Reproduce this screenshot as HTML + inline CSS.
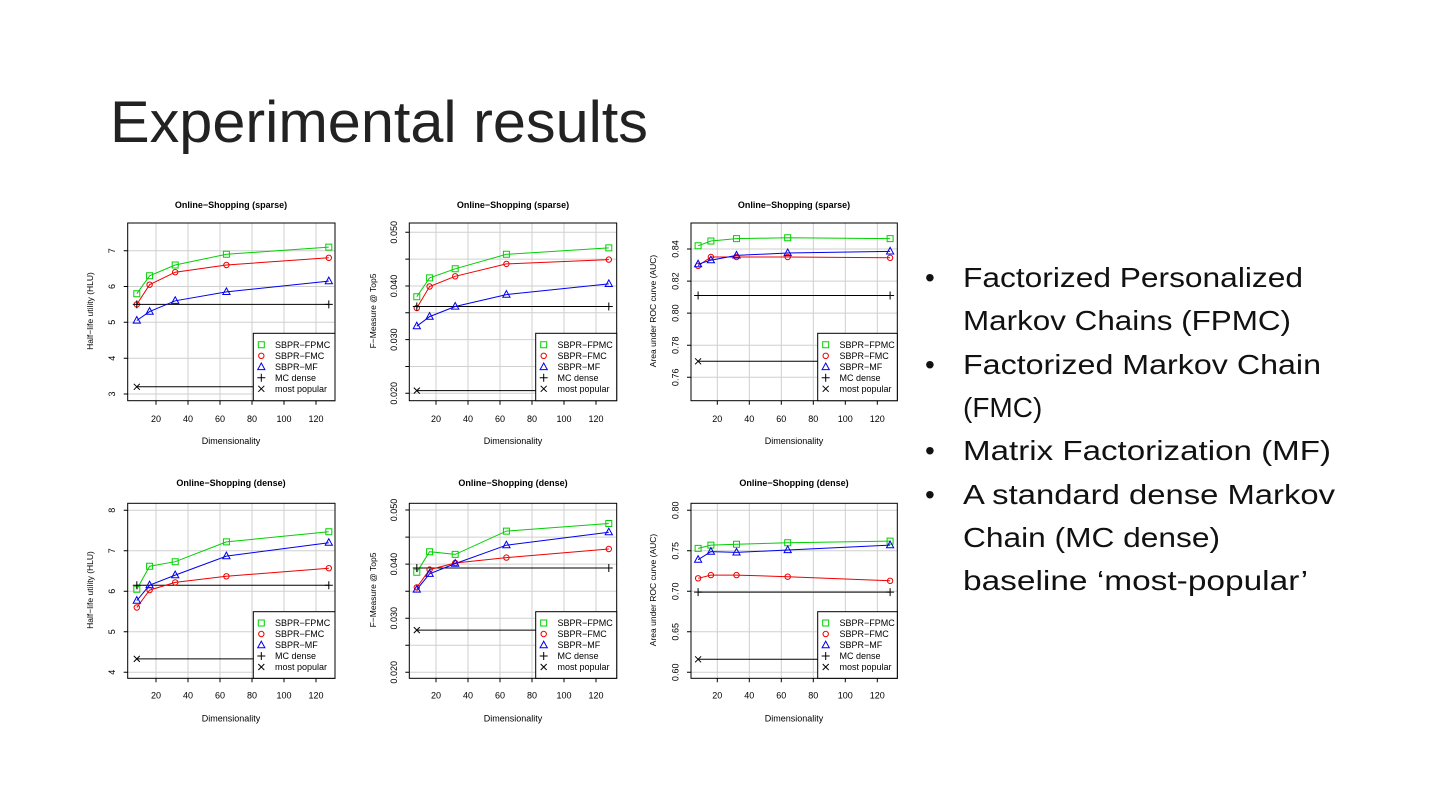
<!DOCTYPE html>
<html><head><meta charset="utf-8"><style>
html,body{margin:0;padding:0;background:#fff;}
svg{display:block;font-family:"Liberation Sans",sans-serif;}
</style></head><body>
<svg width="1440" height="810" viewBox="0 0 1440 810" xmlns="http://www.w3.org/2000/svg">
<defs>
<path id="sq" d="M-3,-3h6v6h-6z" fill="none" stroke="#00d000" stroke-width="1"/>
<circle id="ci" r="2.7" fill="none" stroke="#f00000" stroke-width="1"/>
<path id="tr" d="M0,-4L3.6,2.6L-3.6,2.6z" fill="none" stroke="#0000ee" stroke-width="1"/>
<path id="pl" d="M-4,0h8M0,-4v8" stroke="#000" stroke-width="1"/>
<path id="xx" d="M-3,-3L3,3M-3,3L3,-3" stroke="#000" stroke-width="1"/>
</defs>
<text x="110" y="142" font-size="58" fill="#222" font-family="Liberation Sans, sans-serif" textLength="538" lengthAdjust="spacingAndGlyphs">Experimental results</text>

<!-- right bullets -->
<g font-size="28" fill="#111">
<text x="925" y="287">•</text><text x="963" y="287" textLength="340" lengthAdjust="spacingAndGlyphs">Factorized Personalized</text>
<text x="963" y="330" textLength="328" lengthAdjust="spacingAndGlyphs">Markov Chains (FPMC)</text>
<text x="925" y="374">•</text><text x="963" y="374" textLength="358" lengthAdjust="spacingAndGlyphs">Factorized Markov Chain</text>
<text x="963" y="417">(FMC)</text>
<text x="925" y="460">•</text><text x="963" y="460" textLength="368" lengthAdjust="spacingAndGlyphs">Matrix Factorization (MF)</text>
<text x="925" y="504">•</text><text x="963" y="504" textLength="372" lengthAdjust="spacingAndGlyphs">A standard dense Markov</text>
<text x="963" y="547" textLength="257" lengthAdjust="spacingAndGlyphs">Chain (MC dense)</text>
<text x="963" y="590" textLength="345" lengthAdjust="spacingAndGlyphs">baseline ‘most-popular’</text>
</g>

<!-- common text styles -->
<g font-size="9" fill="#000">

<!-- ================= PLOT A ================= -->
<g stroke="#cfcfcf" stroke-width="1">
<path d="M156,223V400.7M188,223V400.7M220,223V400.7M252,223V400.7M284,223V400.7M316,223V400.7"/>
<path d="M127.7,394H335M127.7,358.2H335M127.7,322.3H335M127.7,286.5H335M127.7,250.7H335"/>
</g>
<polyline points="136.8,304.4 328.8,304.4" fill="none" stroke="#000"/>
<polyline points="136.8,386.8 253.3,386.8" fill="none" stroke="#000"/>
<polyline points="136.8,293.7 149.6,275.8 175.2,265 226.4,254.3 328.8,247.1" fill="none" stroke="#00d000"/>
<polyline points="136.8,304.4 149.6,284.7 175.2,272.2 226.4,265 328.8,257.8" fill="none" stroke="#f00000"/>
<polyline points="136.8,320.5 149.6,311.6 175.2,300.8 226.4,291.9 328.8,281.1" fill="none" stroke="#0000ee"/>
<use href="#sq" x="136.8" y="293.7"/><use href="#sq" x="149.6" y="275.8"/><use href="#sq" x="175.2" y="265"/><use href="#sq" x="226.4" y="254.3"/><use href="#sq" x="328.8" y="247.1"/>
<use href="#ci" x="136.8" y="304.4"/><use href="#ci" x="149.6" y="284.7"/><use href="#ci" x="175.2" y="272.2"/><use href="#ci" x="226.4" y="265"/><use href="#ci" x="328.8" y="257.8"/>
<use href="#tr" x="136.8" y="320.5"/><use href="#tr" x="149.6" y="311.6"/><use href="#tr" x="175.2" y="300.8"/><use href="#tr" x="226.4" y="291.9"/><use href="#tr" x="328.8" y="281.1"/>
<use href="#pl" x="136.8" y="304.4"/><use href="#pl" x="328.8" y="304.4"/><use href="#xx" x="136.8" y="386.8"/>
<rect x="127.7" y="223" width="207.3" height="177.7" fill="none" stroke="#000"/>
<path d="M156,400.7v4M188,400.7v4M220,400.7v4M252,400.7v4M284,400.7v4M316,400.7v4M127.7,394h-4M127.7,358.2h-4M127.7,322.3h-4M127.7,286.5h-4M127.7,250.7h-4" stroke="#000"/>
<g text-anchor="middle"><text x="156" y="422">20</text><text x="188" y="422">40</text><text x="220" y="422">60</text><text x="252" y="422">80</text><text x="284" y="422">100</text><text x="316" y="422">120</text>
<text x="231" y="208" font-weight="bold">Online−Shopping (sparse)</text>
<text x="231" y="444">Dimensionality</text>
<text transform="translate(115,394) rotate(-90)">3</text><text transform="translate(115,358.2) rotate(-90)">4</text><text transform="translate(115,322.3) rotate(-90)">5</text><text transform="translate(115,286.5) rotate(-90)">6</text><text transform="translate(115,250.7) rotate(-90)">7</text>
<text transform="translate(93,311) rotate(-90)" font-size="8.5">Half−life utility (HLU)</text></g>
<rect x="253.3" y="333.3" width="81.7" height="67.4" fill="#fff" stroke="#000"/>
<use href="#sq" x="261.3" y="344.8"/><use href="#ci" x="261.3" y="355.8"/><use href="#tr" x="261.3" y="367"/><use href="#pl" x="261.3" y="377.8"/><use href="#xx" x="261.3" y="388.8"/>
<text x="275" y="348">SBPR−FPMC</text><text x="275" y="359">SBPR−FMC</text><text x="275" y="370">SBPR−MF</text><text x="275" y="381">MC dense</text><text x="275" y="392">most popular</text>

<!-- ================= PLOT B ================= -->
<g stroke="#cfcfcf">
<path d="M436,223V400.7M468,223V400.7M500,223V400.7M532,223V400.7M564,223V400.7M596,223V400.7"/>
<path d="M409.3,393.3H616.7M409.3,366.5H616.7M409.3,339.6H616.7M409.3,312.8H616.7M409.3,286H616.7M409.3,259.1H616.7M409.3,232.3H616.7"/>
</g>
<polyline points="416.8,306.5 608.8,306.5" fill="none" stroke="#000"/>
<polyline points="416.8,390.6 535.7,390.6" fill="none" stroke="#000"/>
<polyline points="416.8,296.7 429.6,277.9 455.2,268.8 506.4,254.3 608.8,247.9" fill="none" stroke="#00d000"/>
<polyline points="416.8,308 429.6,286.5 455.2,276.3 506.4,263.9 608.8,259.6" fill="none" stroke="#f00000"/>
<polyline points="416.8,326.2 429.6,316.6 455.2,306.5 506.4,294.6 608.8,283.9" fill="none" stroke="#0000ee"/>
<use href="#sq" x="416.8" y="296.7"/><use href="#sq" x="429.6" y="277.9"/><use href="#sq" x="455.2" y="268.8"/><use href="#sq" x="506.4" y="254.3"/><use href="#sq" x="608.8" y="247.9"/>
<use href="#ci" x="416.8" y="308"/><use href="#ci" x="429.6" y="286.5"/><use href="#ci" x="455.2" y="276.3"/><use href="#ci" x="506.4" y="263.9"/><use href="#ci" x="608.8" y="259.6"/>
<use href="#tr" x="416.8" y="326.2"/><use href="#tr" x="429.6" y="316.6"/><use href="#tr" x="455.2" y="306.5"/><use href="#tr" x="506.4" y="294.6"/><use href="#tr" x="608.8" y="283.9"/>
<use href="#pl" x="416.8" y="306.5"/><use href="#pl" x="608.8" y="306.5"/><use href="#xx" x="416.8" y="390.6"/>
<rect x="409.3" y="223" width="207.4" height="177.7" fill="none" stroke="#000"/>
<path d="M436,400.7v4M468,400.7v4M500,400.7v4M532,400.7v4M564,400.7v4M596,400.7v4M409.3,393.3h-4M409.3,366.5h-4M409.3,339.6h-4M409.3,312.8h-4M409.3,286h-4M409.3,259.1h-4M409.3,232.3h-4" stroke="#000"/>
<g text-anchor="middle"><text x="436" y="422">20</text><text x="468" y="422">40</text><text x="500" y="422">60</text><text x="532" y="422">80</text><text x="564" y="422">100</text><text x="596" y="422">120</text>
<text x="513" y="208" font-weight="bold">Online−Shopping (sparse)</text>
<text x="513" y="444">Dimensionality</text>
<text transform="translate(397,393.3) rotate(-90)">0.020</text><text transform="translate(397,339.6) rotate(-90)">0.030</text><text transform="translate(397,286) rotate(-90)">0.040</text><text transform="translate(397,232.3) rotate(-90)">0.050</text>
<text transform="translate(376,311) rotate(-90)" font-size="8.5">F−Measure @ Top5</text></g>
<rect x="535.7" y="333.3" width="81" height="67.4" fill="#fff" stroke="#000"/>
<use href="#sq" x="543.7" y="344.8"/><use href="#ci" x="543.7" y="355.8"/><use href="#tr" x="543.7" y="367"/><use href="#pl" x="543.7" y="377.8"/><use href="#xx" x="543.7" y="388.8"/>
<text x="557.5" y="348">SBPR−FPMC</text><text x="557.5" y="359">SBPR−FMC</text><text x="557.5" y="370">SBPR−MF</text><text x="557.5" y="381">MC dense</text><text x="557.5" y="392">most popular</text>

<!-- ================= PLOT C ================= -->
<g stroke="#cfcfcf">
<path d="M717.3,223V400.7M749.3,223V400.7M781.3,223V400.7M813.3,223V400.7M845.3,223V400.7M877.3,223V400.7"/>
<path d="M691,377.3H897.3M691,345.2H897.3M691,313.1H897.3M691,281.1H897.3M691,249H897.3"/>
</g>
<polyline points="698.1,295.5 890.1,295.5" fill="none" stroke="#000"/>
<polyline points="698.1,361.3 817.7,361.3" fill="none" stroke="#000"/>
<polyline points="698.1,245.8 710.9,241 736.5,238.6 787.7,237.8 890.1,238.6" fill="none" stroke="#00d000"/>
<polyline points="698.1,265.8 710.9,257 736.5,257 787.7,257 890.1,257.8" fill="none" stroke="#f00000"/>
<polyline points="698.1,264.2 710.9,260.2 736.5,255.4 787.7,253 890.1,251.4" fill="none" stroke="#0000ee"/>
<use href="#sq" x="698.1" y="245.8"/><use href="#sq" x="710.9" y="241"/><use href="#sq" x="736.5" y="238.6"/><use href="#sq" x="787.7" y="237.8"/><use href="#sq" x="890.1" y="238.6"/>
<use href="#ci" x="698.1" y="265.8"/><use href="#ci" x="710.9" y="257"/><use href="#ci" x="736.5" y="257"/><use href="#ci" x="787.7" y="257"/><use href="#ci" x="890.1" y="257.8"/>
<use href="#tr" x="698.1" y="264.2"/><use href="#tr" x="710.9" y="260.2"/><use href="#tr" x="736.5" y="255.4"/><use href="#tr" x="787.7" y="253"/><use href="#tr" x="890.1" y="251.4"/>
<use href="#pl" x="698.1" y="295.5"/><use href="#pl" x="890.1" y="295.5"/><use href="#xx" x="698.1" y="361.3"/>
<rect x="691" y="223" width="206.3" height="177.7" fill="none" stroke="#000"/>
<path d="M717.3,400.7v4M749.3,400.7v4M781.3,400.7v4M813.3,400.7v4M845.3,400.7v4M877.3,400.7v4M691,377.3h-4M691,345.2h-4M691,313.1h-4M691,281.1h-4M691,249h-4" stroke="#000"/>
<g text-anchor="middle"><text x="717.3" y="422">20</text><text x="749.3" y="422">40</text><text x="781.3" y="422">60</text><text x="813.3" y="422">80</text><text x="845.3" y="422">100</text><text x="877.3" y="422">120</text>
<text x="794" y="208" font-weight="bold">Online−Shopping (sparse)</text>
<text x="794" y="444">Dimensionality</text>
<text transform="translate(678.5,377.3) rotate(-90)">0.76</text><text transform="translate(678.5,345.2) rotate(-90)">0.78</text><text transform="translate(678.5,313.1) rotate(-90)">0.80</text><text transform="translate(678.5,281.1) rotate(-90)">0.82</text><text transform="translate(678.5,249) rotate(-90)">0.84</text>
<text transform="translate(656,311) rotate(-90)" font-size="8.5">Area under ROC curve (AUC)</text></g>
<rect x="817.7" y="333.3" width="79.6" height="67.4" fill="#fff" stroke="#000"/>
<use href="#sq" x="825.7" y="344.8"/><use href="#ci" x="825.7" y="355.8"/><use href="#tr" x="825.7" y="367"/><use href="#pl" x="825.7" y="377.8"/><use href="#xx" x="825.7" y="388.8"/>
<text x="839.5" y="348">SBPR−FPMC</text><text x="839.5" y="359">SBPR−FMC</text><text x="839.5" y="370">SBPR−MF</text><text x="839.5" y="381">MC dense</text><text x="839.5" y="392">most popular</text>

<!-- ================= PLOT D ================= -->
<g stroke="#cfcfcf">
<path d="M156,503.3V678.3M188,503.3V678.3M220,503.3V678.3M252,503.3V678.3M284,503.3V678.3M316,503.3V678.3"/>
<path d="M127.7,672.3H335M127.7,631.8H335M127.7,591.3H335M127.7,550.8H335M127.7,510.3H335"/>
</g>
<polyline points="136.8,585.2 328.8,585.2" fill="none" stroke="#000"/>
<polyline points="136.8,658.9 253.3,658.9" fill="none" stroke="#000"/>
<polyline points="136.8,589.3 149.6,566.2 175.2,561.7 226.4,541.9 328.8,531.8" fill="none" stroke="#00d000"/>
<polyline points="136.8,607.5 149.6,590.1 175.2,582.4 226.4,576.3 328.8,568.2" fill="none" stroke="#f00000"/>
<polyline points="136.8,600.6 149.6,585.2 175.2,575.1 226.4,556.1 328.8,542.7" fill="none" stroke="#0000ee"/>
<use href="#sq" x="136.8" y="589.3"/><use href="#sq" x="149.6" y="566.2"/><use href="#sq" x="175.2" y="561.7"/><use href="#sq" x="226.4" y="541.9"/><use href="#sq" x="328.8" y="531.8"/>
<use href="#ci" x="136.8" y="607.5"/><use href="#ci" x="149.6" y="590.1"/><use href="#ci" x="175.2" y="582.4"/><use href="#ci" x="226.4" y="576.3"/><use href="#ci" x="328.8" y="568.2"/>
<use href="#tr" x="136.8" y="600.6"/><use href="#tr" x="149.6" y="585.2"/><use href="#tr" x="175.2" y="575.1"/><use href="#tr" x="226.4" y="556.1"/><use href="#tr" x="328.8" y="542.7"/>
<use href="#pl" x="136.8" y="585.2"/><use href="#pl" x="328.8" y="585.2"/><use href="#xx" x="136.8" y="658.9"/>
<rect x="127.7" y="503.3" width="207.3" height="175" fill="none" stroke="#000"/>
<path d="M156,678.3v4M188,678.3v4M220,678.3v4M252,678.3v4M284,678.3v4M316,678.3v4M127.7,672.3h-4M127.7,631.8h-4M127.7,591.3h-4M127.7,550.8h-4M127.7,510.3h-4" stroke="#000"/>
<g text-anchor="middle"><text x="156" y="698.5">20</text><text x="188" y="698.5">40</text><text x="220" y="698.5">60</text><text x="252" y="698.5">80</text><text x="284" y="698.5">100</text><text x="316" y="698.5">120</text>
<text x="231" y="486" font-weight="bold">Online−Shopping (dense)</text>
<text x="231" y="721.5">Dimensionality</text>
<text transform="translate(115,672.3) rotate(-90)">4</text><text transform="translate(115,631.8) rotate(-90)">5</text><text transform="translate(115,591.3) rotate(-90)">6</text><text transform="translate(115,550.8) rotate(-90)">7</text><text transform="translate(115,510.3) rotate(-90)">8</text>
<text transform="translate(93,590) rotate(-90)" font-size="8.5">Half−life utility (HLU)</text></g>
<rect x="253.3" y="611.7" width="81.7" height="66.6" fill="#fff" stroke="#000"/>
<use href="#sq" x="261.3" y="623"/><use href="#ci" x="261.3" y="634"/><use href="#tr" x="261.3" y="645.2"/><use href="#pl" x="261.3" y="656"/><use href="#xx" x="261.3" y="667"/>
<text x="275" y="626.2">SBPR−FPMC</text><text x="275" y="637.2">SBPR−FMC</text><text x="275" y="648.2">SBPR−MF</text><text x="275" y="659.2">MC dense</text><text x="275" y="670.2">most popular</text>

<!-- ================= PLOT E ================= -->
<g stroke="#cfcfcf">
<path d="M436,503.3V678.3M468,503.3V678.3M500,503.3V678.3M532,503.3V678.3M564,503.3V678.3M596,503.3V678.3"/>
<path d="M409.3,672.3H616.7M409.3,645.3H616.7M409.3,618.2H616.7M409.3,591.2H616.7M409.3,564.1H616.7M409.3,537.1H616.7M409.3,510H616.7"/>
</g>
<polyline points="416.8,568 608.8,568" fill="none" stroke="#000"/>
<polyline points="416.8,630.1 535.7,630.1" fill="none" stroke="#000"/>
<polyline points="416.8,572.2 429.6,551.7 455.2,554.4 506.4,531.1 608.8,523.5" fill="none" stroke="#00d000"/>
<polyline points="416.8,587.4 429.6,569.6 455.2,563 506.4,557.6 608.8,549" fill="none" stroke="#f00000"/>
<polyline points="416.8,589.5 429.6,573.8 455.2,563.6 506.4,545.2 608.8,532.2" fill="none" stroke="#0000ee"/>
<use href="#sq" x="416.8" y="572.2"/><use href="#sq" x="429.6" y="551.7"/><use href="#sq" x="455.2" y="554.4"/><use href="#sq" x="506.4" y="531.1"/><use href="#sq" x="608.8" y="523.5"/>
<use href="#ci" x="416.8" y="587.4"/><use href="#ci" x="429.6" y="569.6"/><use href="#ci" x="455.2" y="563"/><use href="#ci" x="506.4" y="557.6"/><use href="#ci" x="608.8" y="549"/>
<use href="#tr" x="416.8" y="589.5"/><use href="#tr" x="429.6" y="573.8"/><use href="#tr" x="455.2" y="563.6"/><use href="#tr" x="506.4" y="545.2"/><use href="#tr" x="608.8" y="532.2"/>
<use href="#pl" x="416.8" y="568"/><use href="#pl" x="608.8" y="568"/><use href="#xx" x="416.8" y="630.1"/>
<rect x="409.3" y="503.3" width="207.4" height="175" fill="none" stroke="#000"/>
<path d="M436,678.3v4M468,678.3v4M500,678.3v4M532,678.3v4M564,678.3v4M596,678.3v4M409.3,672.3h-4M409.3,645.3h-4M409.3,618.2h-4M409.3,591.2h-4M409.3,564.1h-4M409.3,537.1h-4M409.3,510h-4" stroke="#000"/>
<g text-anchor="middle"><text x="436" y="698.5">20</text><text x="468" y="698.5">40</text><text x="500" y="698.5">60</text><text x="532" y="698.5">80</text><text x="564" y="698.5">100</text><text x="596" y="698.5">120</text>
<text x="513" y="486" font-weight="bold">Online−Shopping (dense)</text>
<text x="513" y="721.5">Dimensionality</text>
<text transform="translate(397,672.3) rotate(-90)">0.020</text><text transform="translate(397,618.2) rotate(-90)">0.030</text><text transform="translate(397,564.1) rotate(-90)">0.040</text><text transform="translate(397,510) rotate(-90)">0.050</text>
<text transform="translate(376,590) rotate(-90)" font-size="8.5">F−Measure @ Top5</text></g>
<rect x="535.7" y="611.7" width="81" height="66.6" fill="#fff" stroke="#000"/>
<use href="#sq" x="543.7" y="623"/><use href="#ci" x="543.7" y="634"/><use href="#tr" x="543.7" y="645.2"/><use href="#pl" x="543.7" y="656"/><use href="#xx" x="543.7" y="667"/>
<text x="557.5" y="626.2">SBPR−FPMC</text><text x="557.5" y="637.2">SBPR−FMC</text><text x="557.5" y="648.2">SBPR−MF</text><text x="557.5" y="659.2">MC dense</text><text x="557.5" y="670.2">most popular</text>

<!-- ================= PLOT F ================= -->
<g stroke="#cfcfcf">
<path d="M717.3,503.3V678.3M749.3,503.3V678.3M781.3,503.3V678.3M813.3,503.3V678.3M845.3,503.3V678.3M877.3,503.3V678.3"/>
<path d="M691,672.3H897.3M691,631.8H897.3M691,591.3H897.3M691,550.8H897.3M691,510.3H897.3"/>
</g>
<polyline points="698.1,592.1 890.1,592.1" fill="none" stroke="#000"/>
<polyline points="698.1,659.3 817.7,659.3" fill="none" stroke="#000"/>
<polyline points="698.1,548.4 710.9,545.1 736.5,544.3 787.7,542.7 890.1,541.1" fill="none" stroke="#00d000"/>
<polyline points="698.1,578.3 710.9,575.1 736.5,575.1 787.7,576.7 890.1,580.8" fill="none" stroke="#f00000"/>
<polyline points="698.1,559.7 710.9,551.6 736.5,552.4 787.7,550 890.1,545.1" fill="none" stroke="#0000ee"/>
<use href="#sq" x="698.1" y="548.4"/><use href="#sq" x="710.9" y="545.1"/><use href="#sq" x="736.5" y="544.3"/><use href="#sq" x="787.7" y="542.7"/><use href="#sq" x="890.1" y="541.1"/>
<use href="#ci" x="698.1" y="578.3"/><use href="#ci" x="710.9" y="575.1"/><use href="#ci" x="736.5" y="575.1"/><use href="#ci" x="787.7" y="576.7"/><use href="#ci" x="890.1" y="580.8"/>
<use href="#tr" x="698.1" y="559.7"/><use href="#tr" x="710.9" y="551.6"/><use href="#tr" x="736.5" y="552.4"/><use href="#tr" x="787.7" y="550"/><use href="#tr" x="890.1" y="545.1"/>
<use href="#pl" x="698.1" y="592.1"/><use href="#pl" x="890.1" y="592.1"/><use href="#xx" x="698.1" y="659.3"/>
<rect x="691" y="503.3" width="206.3" height="175" fill="none" stroke="#000"/>
<path d="M717.3,678.3v4M749.3,678.3v4M781.3,678.3v4M813.3,678.3v4M845.3,678.3v4M877.3,678.3v4M691,672.3h-4M691,631.8h-4M691,591.3h-4M691,550.8h-4M691,510.3h-4" stroke="#000"/>
<g text-anchor="middle"><text x="717.3" y="698.5">20</text><text x="749.3" y="698.5">40</text><text x="781.3" y="698.5">60</text><text x="813.3" y="698.5">80</text><text x="845.3" y="698.5">100</text><text x="877.3" y="698.5">120</text>
<text x="794" y="486" font-weight="bold">Online−Shopping (dense)</text>
<text x="794" y="721.5">Dimensionality</text>
<text transform="translate(678.5,672.3) rotate(-90)">0.60</text><text transform="translate(678.5,631.8) rotate(-90)">0.65</text><text transform="translate(678.5,591.3) rotate(-90)">0.70</text><text transform="translate(678.5,550.8) rotate(-90)">0.75</text><text transform="translate(678.5,510.3) rotate(-90)">0.80</text>
<text transform="translate(656,590) rotate(-90)" font-size="8.5">Area under ROC curve (AUC)</text></g>
<rect x="817.7" y="611.7" width="79.6" height="66.6" fill="#fff" stroke="#000"/>
<use href="#sq" x="825.7" y="623"/><use href="#ci" x="825.7" y="634"/><use href="#tr" x="825.7" y="645.2"/><use href="#pl" x="825.7" y="656"/><use href="#xx" x="825.7" y="667"/>
<text x="839.5" y="626.2">SBPR−FPMC</text><text x="839.5" y="637.2">SBPR−FMC</text><text x="839.5" y="648.2">SBPR−MF</text><text x="839.5" y="659.2">MC dense</text><text x="839.5" y="670.2">most popular</text>
</g>
</svg>
</body></html>
